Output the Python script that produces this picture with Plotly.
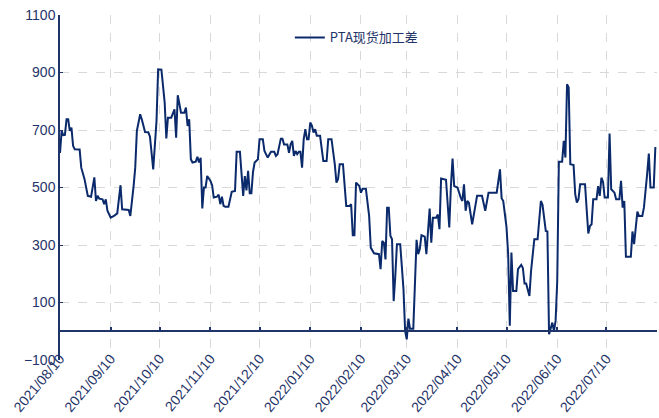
import pandas as pd
import plotly.graph_objects as go

start_date = "2021-08-10"
day_offsets = [0, 1, 2, 3, 4, 5, 6, 7, 8, 9, 12, 13, 15, 17, 19, 21, 22, 23, 24, 26, 27, 28, 29, 31, 33, 35, 37, 38, 42, 43,
               45, 46, 47, 49, 50, 52, 54, 55, 57, 59, 60, 62, 64, 65, 66, 68, 70, 71, 72, 74, 76, 77, 78, 79, 80, 81, 83, 84, 85, 86,
               87, 88, 89, 90, 92, 93, 94, 96, 97, 98, 99, 100, 101, 103, 105, 107, 108, 110, 112, 113, 114, 115, 116, 117, 118, 119, 121, 122, 124, 125,
               127, 129, 131, 132, 133, 135, 136, 137, 139, 140, 141, 142, 143, 144, 145, 146, 147, 148, 149, 150, 151, 152, 153, 154, 155, 156, 157, 159, 161, 163,
               164, 166, 168, 169, 170, 171, 173, 174, 175, 177, 178, 179, 180, 181, 183, 184, 185, 187, 189, 190, 192, 195, 196, 197, 198, 199, 200, 201, 202, 203,
               204, 205, 206, 208, 210, 211, 212, 213, 214, 216, 218, 219, 220, 221, 223, 224, 226, 227, 228, 230, 231, 232, 233, 236, 238, 239, 240, 241, 243, 245,
               246, 247, 248, 249, 250, 252, 255, 258, 260, 262, 267, 269, 270, 271, 273, 274, 275, 276, 277, 279, 280, 282, 283, 284, 285, 287, 288, 290, 292, 294,
               295, 297, 298, 299, 300, 301, 302, 303, 304, 305, 307, 308, 309, 310, 311, 312, 314, 315, 316, 317, 318, 321, 322, 323, 324, 325, 326, 328, 329, 330,
               331, 332, 333, 335, 336, 337, 339, 340, 342, 343, 344, 345, 346, 349, 350, 351, 353, 354, 356, 357, 359, 360, 361, 363, 364]
values = [620, 697, 682, 683, 737, 737, 697, 708, 645, 633, 632, 569, 529, 471, 468, 535, 453, 471, 461, 459, 442, 459, 419, 395, 401, 410, 508, 424, 422, 401,
          505, 569, 697, 755, 737, 693, 692, 677, 563, 731, 911, 910, 795, 671, 743, 743, 772, 673, 821, 760, 760, 778, 714, 737, 598, 587, 590, 607, 587, 603,
          427, 500, 500, 540, 523, 508, 465, 468, 475, 442, 468, 436, 433, 433, 485, 488, 624, 624, 471, 540, 490, 558, 480, 480, 554, 587, 598, 668, 668, 627,
          604, 624, 624, 610, 616, 670, 670, 650, 650, 621, 650, 662, 610, 627, 616, 624, 624, 569, 668, 703, 668, 668, 726, 715, 691, 703, 680, 680, 592, 592,
          668, 668, 581, 517, 529, 581, 581, 494, 436, 436, 442, 334, 334, 517, 505, 482, 496, 496, 401, 291, 271, 268, 216, 314, 308, 250, 430, 430, 332, 320,
          105, 192, 303, 303, 146, 1, -28, 44, 9, 9, 318, 268, 287, 334, 329, 268, 427, 308, 395, 395, 406, 355, 531, 527, 361, 505, 601, 505, 500, 465,
          453, 511, 419, 453, 447, 372, 471, 471, 419, 482, 482, 563, 463, 453, 361, 268, 19, 274, 140, 140, 216, 231, 220, 166, 166, 123, 210, 320, 320, 453,
          440, 349, 347, -10, 7, 30, 1, 36, 175, 590, 590, 662, 604, 859, 848, 581, 578, 477, 448, 459, 511, 511, 424, 340, 366, 372, 459, 459, 505, 471,
          534, 520, 465, 465, 688, 494, 482, 459, 459, 523, 430, 453, 259, 259, 347, 303, 416, 401, 401, 430, 548, 618, 500, 500, 641]
series_name = "PTA现货加工差"

tick_dates = ["2021-08-10", "2021-09-10", "2021-10-10", "2021-11-10", "2021-12-10", "2022-01-10", "2022-02-10",
              "2022-03-10", "2022-04-10", "2022-05-10", "2022-06-10", "2022-07-10", "2022-08-10"]
tick_labels = ["2021/08/10", "2021/09/10", "2021/10/10", "2021/11/10", "2021/12/10", "2022/01/10", "2022/02/10",
               "2022/03/10", "2022/04/10", "2022/05/10", "2022/06/10", "2022/07/10", ""]
y_ticks = [-100, 100, 300, 500, 700, 900, 1100]
y_min, y_max = -100, 1100

dates = pd.to_datetime(start_date) + pd.to_timedelta(day_offsets, unit="D")

NAVY = "#0B2A6B"
AXIS = "#1F3468"
GRID = "#D9D9D9"
FONT = "Liberation Sans Narrow, Arial Narrow, Liberation Sans, Arial"

fig = go.Figure()
fig.add_trace(go.Scatter(x=dates, y=values, mode="lines", name=series_name,
                         line=dict(color=NAVY, width=2)))

zero_pos = (0 - y_min) / (y_max - y_min)

fig.update_layout(
    width=659, height=418,
    margin=dict(l=60, r=2, t=15, b=58),
    paper_bgcolor="white", plot_bgcolor="white",
    showlegend=True,
    legend=dict(orientation="h", x=0.385, y=0.935, xanchor="left", yanchor="middle",
                bgcolor="rgba(0,0,0,0)",
                font=dict(family="Noto Sans CJK SC", size=13, color=AXIS)),
    xaxis=dict(type="date", range=[tick_dates[0], tick_dates[-1]],
               tickmode="array", tickvals=tick_dates, ticktext=tick_labels,
               tickangle=-50, tickfont=dict(family=FONT, size=14, color=AXIS),
               showgrid=True, gridcolor=GRID, griddash="dash", gridwidth=1,
               showline=True, linecolor=AXIS, linewidth=1.5,
               ticks="inside", ticklen=4, tickcolor=AXIS, tickwidth=1.5,
               anchor="free", position=zero_pos, ticklabelstandoff=13,
               zeroline=False, automargin=False),
    yaxis=dict(range=[y_min, y_max], tickmode="array", tickvals=y_ticks,
               tickfont=dict(family=FONT, size=14, color=AXIS),
               showgrid=True, gridcolor=GRID, griddash="dash", gridwidth=1,
               showline=True, linecolor=AXIS, linewidth=1.5,
               ticks="inside", ticklen=3, tickcolor=AXIS,
               zeroline=False, domain=[0, 1], automargin=False),
)

fig.write_html("out.html", config={"displayModeBar": False},
               post_script="document.body.style.margin='0';document.body.style.overflow='hidden';")
